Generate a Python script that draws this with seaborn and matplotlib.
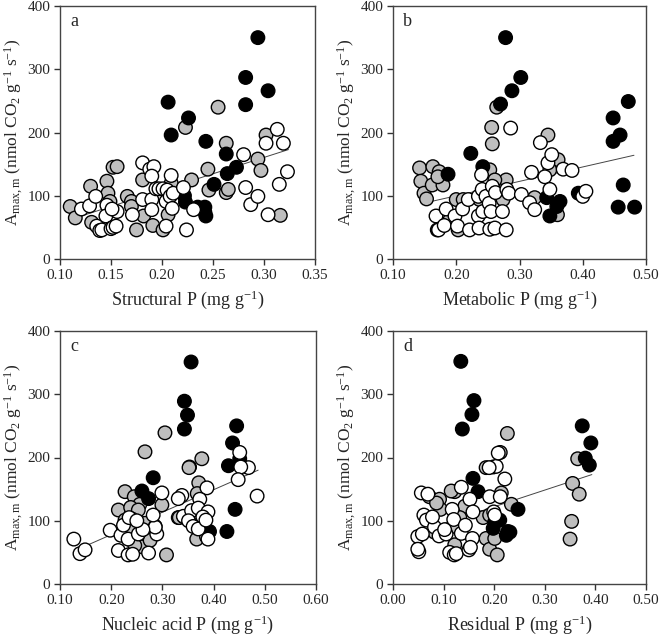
import numpy as np
import pandas as pd
import matplotlib
matplotlib.use("Agg")
import matplotlib.pyplot as plt
import seaborn as sns
from matplotlib.ticker import FormatStrFormatter

sns.set_style("white")
plt.rcParams['font.family'] = ['Liberation Serif', 'DejaVu Serif']
plt.rcParams['mathtext.fontset'] = 'custom'
plt.rcParams['mathtext.rm'] = 'Liberation Serif'
plt.rcParams['mathtext.it'] = 'Liberation Serif:italic'
plt.rcParams['axes.unicode_minus'] = False

# ---------------- Panel a: Structural P ----------------
black_a_x = [0.206,0.209,0.226,0.243,0.294,0.282,0.282,0.304,0.263,0.264,0.273,0.251,0.222,0.223,0.235,0.242,0.243]
black_a_y = [248,196,223,186,350,287,244,266,166,135,145,118,100,90,82,82,68]
gray_a_x = [0.110,0.115,0.130,0.131,0.146,0.147,0.149,0.152,0.156,0.166,0.170,0.175,0.181,0.182,0.191,0.201,0.206,0.209,0.223,0.229,0.245,0.246,0.242,0.255,0.263,0.263,0.265,0.302,0.294,0.297,0.316,0.170]
gray_a_y = [83,65,115,58,123,104,91,145,146,99,91,46,125,68,53,46,70,120,208,125,142,109,74,240,183,105,110,196,158,140,69,83]
white_a_x = [0.121,0.129,0.135,0.136,0.139,0.141,0.146,0.145,0.150,0.152,0.155,0.156,0.151,0.171,0.181,0.181,0.188,0.192,0.190,0.190,0.190,0.194,0.197,0.201,0.205,0.204,0.204,0.209,0.208,0.211,0.210,0.221,0.224,0.231,0.280,0.282,0.287,0.294,0.302,0.313,0.319,0.323,0.315,0.304]
white_a_y = [79,84,99,52,45,46,85,68,48,50,52,75,79,70,152,94,142,146,131,94,78,111,111,111,109,52,91,132,99,104,80,113,46,78,165,113,86,99,183,205,183,138,118,70]
line_a_x = [0.115, 0.324]
line_a_y = [65, 173]

# ---------------- Panel b: Metabolic P ----------------
black_b_x = [0.278,0.302,0.288,0.270,0.223,0.187,0.242,0.448,0.448,0.459,0.464,0.472,0.456,0.482,0.393,0.364,0.359,0.170,0.348,0.343]
black_b_y = [350,287,266,245,167,134,146,223,186,196,117,249,82,82,104,91,83,46,68,97]
gray_b_x = [0.142,0.144,0.149,0.153,0.163,0.173,0.162,0.179,0.171,0.200,0.203,0.190,0.253,0.256,0.257,0.264,0.279,0.261,0.324,0.345,0.361,0.348,0.360,0.274,0.211,0.237]
gray_b_y = [144,123,104,95,146,138,117,117,130,94,46,62,141,208,182,240,125,125,97,196,157,141,70,94,94,94]
white_b_x = [0.168,0.172,0.181,0.184,0.198,0.202,0.210,0.219,0.221,0.235,0.235,0.236,0.240,0.241,0.242,0.247,0.252,0.255,0.253,0.257,0.262,0.261,0.273,0.279,0.280,0.283,0.286,0.303,0.319,0.316,0.324,0.333,0.340,0.345,0.348,0.351,0.369,0.383,0.400,0.405]
white_b_y = [68,46,53,79,68,52,79,94,46,99,68,49,133,110,75,99,88,75,47,115,105,49,75,46,110,104,207,102,137,89,78,184,130,152,110,165,142,140,99,107]
line_b_x = [0.152, 0.481]
line_b_y = [89, 164]

# ---------------- Panel c: Nucleic acid P ----------------
black_c_x = [0.356,0.343,0.349,0.343,0.445,0.437,0.429,0.451,0.442,0.426,0.392,0.282,0.260,0.273,0.286]
black_c_y = [351,289,267,245,250,223,187,198,118,83,83,168,147,135,91]
gray_c_x = [0.266,0.305,0.353,0.227,0.245,0.256,0.214,0.299,0.238,0.253,0.240,0.227,0.266,0.273,0.260,0.246,0.308,0.240,0.263,0.331,0.377,0.352,0.371,0.368,0.333,0.367,0.386,0.276]
gray_c_y = [209,239,185,146,138,126,117,125,121,117,103,101,96,72,59,61,46,88,80,105,198,184,160,143,105,71,75,69]
white_c_x = [0.127,0.139,0.149,0.198,0.214,0.219,0.224,0.235,0.233,0.242,0.233,0.253,0.273,0.289,0.286,0.282,0.299,0.338,0.331,0.342,0.351,0.451,0.468,0.453,0.448,0.485,0.387,0.373,0.341,0.357,0.370,0.389,0.351,0.379,0.360,0.370,0.389,0.385,0.262,0.250]
white_c_y = [71,48,54,85,53,77,93,105,46,47,71,79,49,79,90,109,144,140,135,106,101,208,184,185,165,139,152,134,107,116,120,114,100,106,91,87,71,101,86,100]
line_c_x = [0.155, 0.487]
line_c_y = [62, 180]

# ---------------- Panel d: Residual P ----------------
black_d_x = [0.134,0.137,0.156,0.160,0.374,0.391,0.380,0.388,0.158,0.168,0.247,0.201,0.211,0.198,0.227,0.224,0.231]
black_d_y = [352,245,268,290,250,223,199,188,167,146,118,98,101,88,83,77,82]
gray_d_x = [0.072,0.092,0.094,0.082,0.122,0.115,0.142,0.132,0.184,0.198,0.212,0.214,0.234,0.178,0.184,0.191,0.201,0.206,0.191,0.122,0.122,0.086,0.365,0.355,0.368,0.353,0.350,0.226]
gray_d_y = [138,134,118,82,146,147,123,105,184,185,208,144,126,105,72,55,72,46,109,91,62,128,198,159,142,99,71,238]
white_d_x = [0.049,0.051,0.049,0.056,0.069,0.061,0.066,0.058,0.082,0.091,0.105,0.117,0.120,0.102,0.112,0.121,0.125,0.150,0.135,0.143,0.135,0.152,0.158,0.191,0.204,0.208,0.221,0.199,0.157,0.153,0.190,0.212,0.201,0.078]
white_d_y = [75,51,55,144,142,109,101,79,90,76,79,118,102,86,50,46,48,54,80,93,153,134,114,138,186,207,166,114,72,58,184,138,109,106]
line_d_x = [0.093, 0.393]
line_d_y = [94, 173]

panels = [
    dict(letter='a', xlabel='Structural P (mg g$^{-1}$)', xlim=(0.10, 0.35), xticks=np.arange(0.10, 0.351, 0.05),
         black=(black_a_x, black_a_y), gray=(gray_a_x, gray_a_y), white=(white_a_x, white_a_y), line=(line_a_x, line_a_y),
         rect=[60/660, 1-259/637, 255/660, 253/637]),
    dict(letter='b', xlabel='Metabolic P (mg g$^{-1}$)', xlim=(0.10, 0.50), xticks=np.arange(0.10, 0.501, 0.10),
         black=(black_b_x, black_b_y), gray=(gray_b_x, gray_b_y), white=(white_b_x, white_b_y), line=(line_b_x, line_b_y),
         rect=[393/660, 1-259/637, 253/660, 253/637]),
    dict(letter='c', xlabel='Nucleic acid P (mg g$^{-1}$)', xlim=(0.10, 0.60), xticks=np.arange(0.10, 0.601, 0.10),
         black=(black_c_x, black_c_y), gray=(gray_c_x, gray_c_y), white=(white_c_x, white_c_y), line=(line_c_x, line_c_y),
         rect=[60/660, 1-584/637, 256/660, 253/637]),
    dict(letter='d', xlabel='Residual P (mg g$^{-1}$)', xlim=(0.00, 0.50), xticks=np.arange(0.00, 0.501, 0.10),
         black=(black_d_x, black_d_y), gray=(gray_d_x, gray_d_y), white=(white_d_x, white_d_y), line=(line_d_x, line_d_y),
         rect=[393/660, 1-584/637, 253/660, 253/637]),
]

palette = {'gray': '#bebebe', 'black': '#000000', 'white': '#ffffff'}

fig = plt.figure(figsize=(6.6, 6.37), dpi=100)
for p in panels:
    ax = fig.add_axes(p['rect'])
    frames = []
    for g in ['gray', 'black', 'white']:
        xs, ys = p[g]
        frames.append(pd.DataFrame({'x': xs, 'y': ys, 'group': g}))
    df = pd.concat(frames, ignore_index=True)
    sns.scatterplot(data=df, x='x', y='y', hue='group', hue_order=['gray', 'black', 'white'],
                    palette=palette, edgecolor='black', linewidth=1.0, s=95, legend=False, ax=ax, zorder=3)
    lx, ly = p['line']
    sns.lineplot(x=lx, y=ly, color='#444444', linewidth=0.7, ax=ax, zorder=2)
    ax.set_xlim(*p['xlim'])
    ax.set_ylim(0, 400)
    ax.set_xticks(p['xticks'])
    ax.set_yticks([0, 100, 200, 300, 400])
    ax.xaxis.set_major_formatter(FormatStrFormatter('%.2f'))
    ax.tick_params(axis='both', which='major', direction='out', length=4, width=1,
                   labelsize=11, color='#333333', bottom=True, left=True, top=False, right=False, pad=3)
    for s in ax.spines.values():
        s.set_color('#444444')
        s.set_linewidth(1.0)
    ax.set_xlabel(p['xlabel'], fontsize=13, labelpad=5)
    ax.set_ylabel(r'A$_{\mathrm{max,m}}$ (nmol CO$_2$ g$^{-1}$ s$^{-1}$)', fontsize=12.5, labelpad=2)
    ax.text(0.04, 0.94, p['letter'], transform=ax.transAxes, fontsize=13, va='center', ha='left')

fig.savefig('out.png', dpi=100)
